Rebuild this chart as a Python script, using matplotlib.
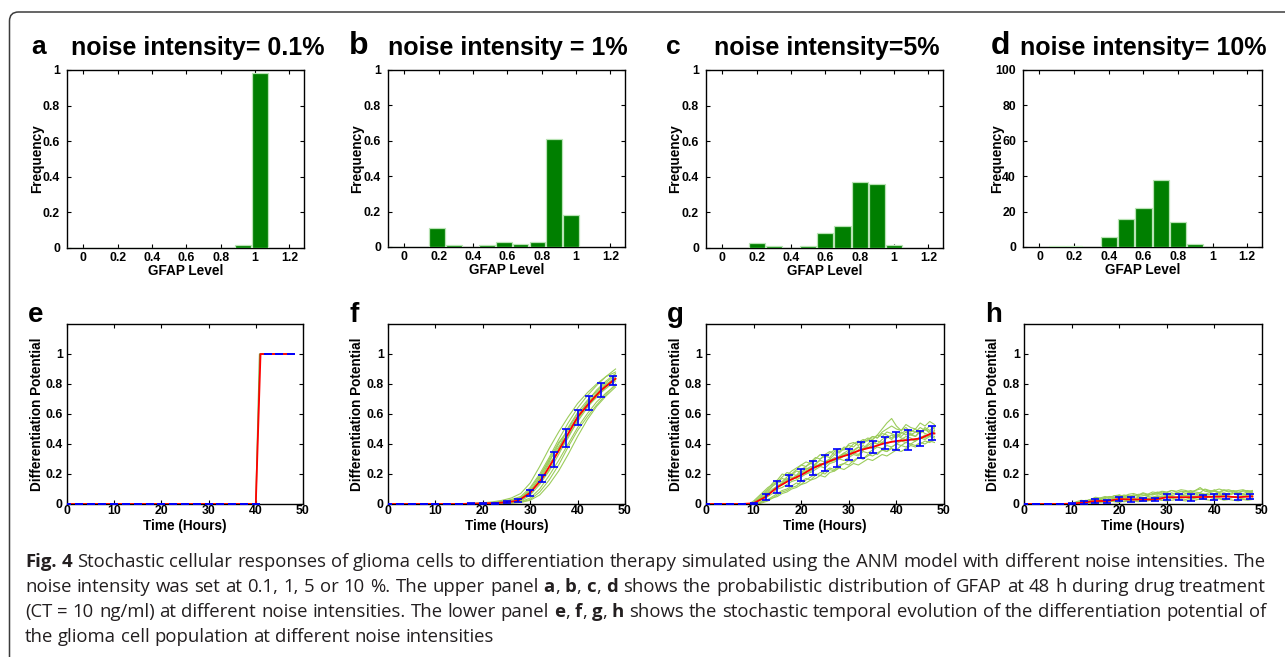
import numpy as np
import matplotlib
matplotlib.use("Agg")
import matplotlib.pyplot as plt
from matplotlib.patches import FancyBboxPatch
from matplotlib.transforms import IdentityTransform

W, H = 1285, 657
plt.rcParams['font.family'] = ['Liberation Sans', 'DejaVu Sans']
plt.rcParams['font.weight'] = 'bold'

# ---------------- data ----------------
titles = ["noise intensity= 0.1%", "noise intensity = 1%", "noise intensity=5%", "noise intensity= 10%"]
top_letters = ["a", "b", "c", "d"]
bottom_letters = ["e", "f", "g", "h"]

hist_a_centers = [-0.07, 0.03, 0.13, 0.23, 0.33, 0.43, 0.53, 0.63, 0.73, 0.83, 0.93, 1.03]
hist_a_freq = [0, 0, 0, 0, 0, 0, 0, 0, 0, 0, 0.019, 0.983]
hist_b_centers = [-0.1025, -0.005, 0.0925, 0.19, 0.2875, 0.385, 0.4825, 0.58, 0.6775, 0.775, 0.8725, 0.97]
hist_b_freq = [0, 0, 0, 0.109, 0.009, 0.002, 0.009, 0.028, 0.019, 0.028, 0.611, 0.179]
hist_c_centers = [0.0, 0.1, 0.2, 0.3, 0.4, 0.5, 0.6, 0.7, 0.8, 0.9, 1.0]
hist_c_freq = [0, 0, 0.03, 0.013, 0, 0.013, 0.082, 0.121, 0.372, 0.36, 0.019]
hist_d_centers = [0.0, 0.1, 0.2, 0.3, 0.4, 0.5, 0.6, 0.7, 0.8, 0.9, 1.0]
hist_d_freq = [0, 0.8, 0.8, 0, 5.8, 15.8, 22, 38, 13.9, 1.9, 0]

gfap_ticks = [0, 0.2, 0.4, 0.6, 0.8, 1.0, 1.2]
gfap_ticklabels = ["0", "0.2", "0.4", "0.6", "0.8", "1", "1.2"]
freq_ticks = [0, 0.2, 0.4, 0.6, 0.8, 1.0]
freq_ticklabels = ["0", "0.2", "0.4", "0.6", "0.8", "1"]
count_ticks = [0, 20, 40, 60, 80, 100]
count_ticklabels = ["0", "20", "40", "60", "80", "100"]
time_ticks = [0, 10, 20, 30, 40, 50]
time_ticklabels = ["0", "10", "20", "30", "40", "50"]

# error-bar summaries (every 2.5 h from 0 to 47.5)
t_err = np.arange(0, 50, 2.5)
mean_e = [0, 0, 0, 0, 0, 0, 0, 0, 0, 0, 0, 0, 0, 0, 0, 0, 0, 1, 1, 1]
std_e = [0] * 20
mean_f = [0, 0, 0, 0, 0, 0, 0, 0.002, 0.004, 0.006, 0.012, 0.022, 0.075, 0.17, 0.30, 0.44, 0.58, 0.675, 0.76, 0.823]
std_f = [0, 0, 0, 0, 0, 0, 0, 0.002, 0.003, 0.004, 0.008, 0.01, 0.02, 0.026, 0.05, 0.06, 0.05, 0.047, 0.047, 0.028]
mean_g = [0, 0, 0, 0, 0.005, 0.047, 0.112, 0.157, 0.193, 0.24, 0.273, 0.305, 0.33, 0.36, 0.38, 0.405, 0.42, 0.427, 0.437, 0.473]
std_g = [0, 0, 0, 0, 0.005, 0.022, 0.039, 0.039, 0.042, 0.044, 0.055, 0.06, 0.038, 0.055, 0.04, 0.04, 0.06, 0.065, 0.053, 0.045]
mean_h = [0, 0, 0, 0, 0.002, 0.01, 0.02, 0.02, 0.033, 0.03, 0.03, 0.03, 0.045, 0.045, 0.045, 0.047, 0.048, 0.05, 0.045, 0.05]
std_h = [0, 0, 0, 0, 0.002, 0.01, 0.015, 0.01, 0.015, 0.015, 0.013, 0.013, 0.02, 0.02, 0.022, 0.015, 0.018, 0.015, 0.02, 0.018]
end_f, end_g, end_h = 0.835, 0.47, 0.05

# panel e: all trajectories switch at 40 h
t_e = [0, 40, 41, 48]
traj_e = [0, 0, 1, 1]
t_e_green = [0, 40, 40.8, 48]

# panel f trajectories
t_f = [0, 16, 18, 20, 22, 24, 26, 28, 30, 32, 34, 36, 38, 40, 42, 44, 46, 48]
traj_f = [
    [0, 0, 0.003, 0.006, 0.01, 0.018, 0.03, 0.05, 0.11, 0.20, 0.31, 0.43, 0.54, 0.64, 0.72, 0.79, 0.85, 0.90],
    [0, 0, 0.001, 0.002, 0.004, 0.006, 0.01, 0.015, 0.04, 0.10, 0.19, 0.29, 0.40, 0.51, 0.60, 0.68, 0.74, 0.79],
    [0, 0, 0.002, 0.004, 0.007, 0.012, 0.02, 0.035, 0.09, 0.17, 0.28, 0.40, 0.50, 0.60, 0.67, 0.74, 0.80, 0.84],
    [0, 0, 0.001, 0.003, 0.005, 0.008, 0.012, 0.02, 0.06, 0.13, 0.22, 0.33, 0.45, 0.55, 0.64, 0.72, 0.77, 0.82],
    [0, 0, 0.002, 0.005, 0.008, 0.014, 0.022, 0.04, 0.10, 0.19, 0.29, 0.38, 0.47, 0.57, 0.65, 0.71, 0.78, 0.83],
    [0, 0, 0.001, 0.002, 0.003, 0.005, 0.008, 0.012, 0.03, 0.08, 0.16, 0.26, 0.38, 0.49, 0.58, 0.66, 0.73, 0.80],
    [0, 0, 0.003, 0.005, 0.009, 0.015, 0.025, 0.045, 0.085, 0.14, 0.23, 0.37, 0.51, 0.61, 0.69, 0.75, 0.81, 0.86],
    [0, 0, 0.002, 0.003, 0.006, 0.01, 0.016, 0.028, 0.07, 0.16, 0.27, 0.35, 0.44, 0.56, 0.66, 0.73, 0.79, 0.85],
    [0, 0, 0.004, 0.008, 0.014, 0.024, 0.04, 0.07, 0.14, 0.25, 0.37, 0.48, 0.58, 0.67, 0.74, 0.80, 0.85, 0.88],
    [0, 0, 0.001, 0.001, 0.002, 0.004, 0.006, 0.01, 0.025, 0.06, 0.13, 0.22, 0.33, 0.45, 0.56, 0.65, 0.72, 0.78],
    [0, 0, 0.002, 0.004, 0.006, 0.01, 0.018, 0.03, 0.08, 0.18, 0.30, 0.41, 0.49, 0.58, 0.68, 0.76, 0.82, 0.87],
]

# panels g, h trajectories (t = 0, then hourly 9..48)
t_gh = [0] + list(range(9, 49))
traj_g = [
    [0, 0, 0.01, 0.03, 0.06, 0.08, 0.12, 0.14, 0.15, 0.18, 0.20, 0.19, 0.23, 0.25, 0.27, 0.26, 0.30, 0.32, 0.31, 0.35, 0.34, 0.37, 0.39, 0.38, 0.41, 0.43, 0.42, 0.45, 0.44, 0.48, 0.50, 0.52, 0.50, 0.49, 0.53, 0.51, 0.50, 0.54, 0.52, 0.55, 0.53],
    [0, 0, 0, 0.01, 0.02, 0.03, 0.05, 0.07, 0.09, 0.10, 0.12, 0.14, 0.13, 0.16, 0.18, 0.20, 0.19, 0.22, 0.24, 0.23, 0.26, 0.27, 0.29, 0.28, 0.31, 0.30, 0.32, 0.34, 0.33, 0.36, 0.35, 0.37, 0.36, 0.39, 0.38, 0.40, 0.39, 0.41, 0.40, 0.42, 0.41],
    [0, 0, 0.02, 0.05, 0.08, 0.11, 0.13, 0.15, 0.17, 0.16, 0.19, 0.22, 0.21, 0.24, 0.23, 0.27, 0.29, 0.28, 0.30, 0.33, 0.31, 0.34, 0.33, 0.36, 0.38, 0.36, 0.39, 0.41, 0.40, 0.43, 0.45, 0.43, 0.46, 0.44, 0.43, 0.47, 0.45, 0.48, 0.50, 0.47, 0.49],
    [0, 0, 0.005, 0.02, 0.03, 0.05, 0.07, 0.10, 0.11, 0.13, 0.15, 0.16, 0.18, 0.20, 0.21, 0.23, 0.25, 0.24, 0.27, 0.28, 0.30, 0.29, 0.31, 0.33, 0.32, 0.35, 0.34, 0.36, 0.38, 0.37, 0.39, 0.38, 0.40, 0.42, 0.41, 0.43, 0.42, 0.44, 0.46, 0.45, 0.47],
    [0, 0, 0.01, 0.04, 0.07, 0.10, 0.14, 0.16, 0.20, 0.19, 0.22, 0.24, 0.26, 0.25, 0.28, 0.31, 0.30, 0.33, 0.35, 0.33, 0.37, 0.36, 0.40, 0.41, 0.39, 0.42, 0.44, 0.43, 0.46, 0.45, 0.48, 0.47, 0.45, 0.48, 0.46, 0.49, 0.48, 0.51, 0.49, 0.52, 0.50],
    [0, 0, 0, 0.005, 0.015, 0.03, 0.04, 0.06, 0.08, 0.09, 0.11, 0.12, 0.15, 0.17, 0.16, 0.19, 0.21, 0.20, 0.23, 0.22, 0.25, 0.27, 0.26, 0.29, 0.31, 0.30, 0.33, 0.32, 0.34, 0.36, 0.35, 0.38, 0.40, 0.39, 0.41, 0.40, 0.42, 0.44, 0.43, 0.45, 0.44],
    [0, 0, 0.01, 0.03, 0.05, 0.07, 0.10, 0.12, 0.14, 0.17, 0.16, 0.18, 0.21, 0.23, 0.25, 0.24, 0.27, 0.26, 0.29, 0.31, 0.30, 0.32, 0.35, 0.34, 0.36, 0.39, 0.37, 0.40, 0.42, 0.41, 0.44, 0.46, 0.44, 0.47, 0.49, 0.46, 0.48, 0.47, 0.50, 0.48, 0.51],
    [0, 0, 0.01, 0.03, 0.06, 0.09, 0.12, 0.15, 0.18, 0.21, 0.20, 0.23, 0.26, 0.28, 0.27, 0.30, 0.33, 0.31, 0.34, 0.36, 0.35, 0.38, 0.37, 0.40, 0.42, 0.40, 0.43, 0.45, 0.44, 0.47, 0.46, 0.44, 0.47, 0.45, 0.48, 0.46, 0.45, 0.49, 0.47, 0.46, 0.48],
    [0, 0, 0, 0, 0.01, 0.02, 0.04, 0.05, 0.07, 0.08, 0.10, 0.11, 0.13, 0.14, 0.16, 0.17, 0.19, 0.18, 0.21, 0.22, 0.24, 0.23, 0.25, 0.27, 0.26, 0.28, 0.30, 0.29, 0.31, 0.33, 0.32, 0.34, 0.36, 0.35, 0.37, 0.39, 0.38, 0.40, 0.42, 0.41, 0.43],
    [0, 0, 0.005, 0.02, 0.04, 0.07, 0.09, 0.11, 0.13, 0.16, 0.18, 0.17, 0.20, 0.22, 0.24, 0.26, 0.25, 0.28, 0.30, 0.29, 0.32, 0.34, 0.36, 0.35, 0.38, 0.37, 0.40, 0.43, 0.46, 0.50, 0.54, 0.57, 0.52, 0.49, 0.51, 0.48, 0.50, 0.47, 0.51, 0.49, 0.52],
    [0, 0, 0.01, 0.025, 0.045, 0.065, 0.09, 0.12, 0.14, 0.15, 0.17, 0.19, 0.21, 0.20, 0.22, 0.25, 0.27, 0.26, 0.28, 0.29, 0.31, 0.33, 0.32, 0.34, 0.33, 0.36, 0.38, 0.37, 0.39, 0.41, 0.40, 0.42, 0.41, 0.43, 0.45, 0.44, 0.42, 0.45, 0.44, 0.46, 0.45],
]
traj_h = [
    [0, 0, 0, 0.005, 0.01, 0.02, 0.03, 0.025, 0.04, 0.035, 0.05, 0.04, 0.06, 0.05, 0.045, 0.06, 0.055, 0.07, 0.06, 0.065, 0.08, 0.07, 0.075, 0.09, 0.08, 0.07, 0.085, 0.075, 0.09, 0.11, 0.085, 0.08, 0.095, 0.075, 0.09, 0.08, 0.085, 0.07, 0.09, 0.08, 0.085],
    [0, 0, 0, 0, 0.005, 0.01, 0.005, 0.015, 0.01, 0.02, 0.015, 0.02, 0.025, 0.015, 0.02, 0.03, 0.02, 0.025, 0.02, 0.03, 0.035, 0.025, 0.03, 0.04, 0.03, 0.035, 0.03, 0.04, 0.035, 0.03, 0.04, 0.045, 0.035, 0.04, 0.03, 0.035, 0.045, 0.04, 0.035, 0.03, 0.04],
    [0, 0, 0, 0.01, 0.015, 0.025, 0.02, 0.035, 0.03, 0.025, 0.04, 0.035, 0.03, 0.045, 0.04, 0.035, 0.03, 0.04, 0.05, 0.045, 0.055, 0.05, 0.06, 0.055, 0.065, 0.06, 0.05, 0.065, 0.06, 0.07, 0.065, 0.06, 0.07, 0.065, 0.055, 0.06, 0.07, 0.065, 0.06, 0.07, 0.065],
    [0, 0, 0, 0.005, 0.005, 0.01, 0.015, 0.01, 0.02, 0.03, 0.025, 0.03, 0.04, 0.035, 0.03, 0.025, 0.035, 0.03, 0.04, 0.035, 0.045, 0.04, 0.05, 0.045, 0.04, 0.05, 0.055, 0.045, 0.05, 0.055, 0.05, 0.045, 0.055, 0.05, 0.06, 0.05, 0.045, 0.055, 0.05, 0.06, 0.055],
    [0, 0, 0.005, 0.015, 0.025, 0.02, 0.03, 0.045, 0.04, 0.05, 0.045, 0.055, 0.05, 0.06, 0.055, 0.05, 0.065, 0.06, 0.055, 0.07, 0.065, 0.08, 0.07, 0.065, 0.075, 0.085, 0.08, 0.09, 0.08, 0.075, 0.10, 0.09, 0.085, 0.08, 0.095, 0.085, 0.09, 0.08, 0.085, 0.09, 0.08],
    [0, 0, 0, 0, 0.01, 0.005, 0.01, 0.005, 0.015, 0.01, 0.02, 0.015, 0.01, 0.02, 0.025, 0.02, 0.015, 0.02, 0.025, 0.02, 0.03, 0.025, 0.02, 0.025, 0.03, 0.025, 0.02, 0.03, 0.025, 0.035, 0.03, 0.025, 0.03, 0.035, 0.025, 0.03, 0.025, 0.02, 0.03, 0.025, 0.03],
    [0, 0, 0, 0.01, 0.02, 0.015, 0.025, 0.035, 0.03, 0.04, 0.05, 0.045, 0.04, 0.055, 0.05, 0.06, 0.05, 0.055, 0.065, 0.06, 0.07, 0.06, 0.065, 0.075, 0.065, 0.06, 0.07, 0.08, 0.07, 0.075, 0.065, 0.075, 0.085, 0.07, 0.075, 0.065, 0.08, 0.075, 0.07, 0.08, 0.075],
    [0, 0, 0, 0, 0.005, 0.01, 0.02, 0.015, 0.025, 0.02, 0.03, 0.025, 0.035, 0.03, 0.04, 0.035, 0.045, 0.04, 0.035, 0.045, 0.05, 0.045, 0.055, 0.05, 0.045, 0.055, 0.06, 0.055, 0.05, 0.06, 0.055, 0.065, 0.06, 0.055, 0.065, 0.06, 0.07, 0.065, 0.06, 0.065, 0.06],
    [0, 0, 0, 0.005, 0.01, 0.02, 0.03, 0.04, 0.035, 0.045, 0.04, 0.055, 0.06, 0.05, 0.065, 0.07, 0.06, 0.075, 0.065, 0.08, 0.075, 0.085, 0.08, 0.09, 0.085, 0.095, 0.09, 0.08, 0.09, 0.10, 0.095, 0.085, 0.09, 0.10, 0.09, 0.095, 0.085, 0.09, 0.095, 0.085, 0.09],
]

caption_lines = [
    "**Fig.** **4** Stochastic cellular responses of glioma cells to differentiation therapy simulated using the ANM model with different noise intensities. The",
    "noise intensity was set at 0.1, 1, 5 or 10 %. The upper panel **a**, **b**, **c**, **d** shows the probabilistic distribution of GFAP at 48 h during drug treatment",
    "(CT = 10 ng/ml) at different noise intensities. The lower panel **e**, **f**, **g**, **h** shows the stochastic temporal evolution of the differentiation potential of",
    "the glioma cell population at different noise intensities",
]

# ---------------- figure ----------------
fig = plt.figure(figsize=(W / 100, H / 100), dpi=100)

frame = FancyBboxPatch((9.5, -60), 1400, (H - 12) + 60, boxstyle="round,pad=0,rounding_size=9",
                       transform=IdentityTransform(), fill=False, ec="#3c3c3c", lw=1.1)
fig.add_artist(frame)


def rect(x0, y0, x1, y1):
    return [x0 / W, 1 - y1 / H, (x1 - x0) / W, (y1 - y0) / H]


TICK_FS = 8.8
LAB_FS = 9.8


def style(ax, xpad, ypad):
    ax.tick_params(direction='in', top=True, right=True, length=3, width=0.8,
                   labelsize=TICK_FS, colors='black')
    ax.tick_params(axis='x', pad=xpad)
    ax.tick_params(axis='y', pad=ypad)
    for s in ax.spines.values():
        s.set_linewidth(1.0)
        s.set_color('black')
        s.set_zorder(2.5)


top_rects = [(67, 70, 304, 248), (388, 70, 625, 247), (706, 70, 943, 248), (1023, 70, 1262, 247)]
bot_rects = [(67, 324, 303, 504), (388, 324, 625, 504), (706, 324, 944, 504), (1024, 324, 1262, 504)]
top_ylabx = [-0.125, -0.131, -0.129, -0.108]
bot_ylabx = [-0.125, -0.131, -0.128, -0.129]

hists = [(hist_a_centers, hist_a_freq, 0.092), (hist_b_centers, hist_b_freq, 0.091),
         (hist_c_centers, hist_c_freq, 0.094), (hist_d_centers, hist_d_freq, 0.094)]

BAR_GREEN = "#007f00"
BAR_EDGE = "#b9e3b5"
for i, (r, (cen, fr, wd)) in enumerate(zip(top_rects, hists)):
    ax = fig.add_axes(rect(*r))
    ax.bar(cen, fr, width=wd, color=BAR_GREEN, edgecolor=BAR_EDGE, linewidth=0.9, zorder=3)
    ax.set_xlim(-0.095, 1.285)
    ax.set_xticks(gfap_ticks)
    ax.set_xticklabels(gfap_ticklabels, fontweight='bold')
    if i == 3:
        ax.set_ylim(0, 100)
        ax.set_yticks(count_ticks)
        ax.set_yticklabels(count_ticklabels, fontweight='bold')
    else:
        ax.set_ylim(0, 1)
        ax.set_yticks(freq_ticks)
        ax.set_yticklabels(freq_ticklabels, fontweight='bold')
    style(ax, 3.0, 5.0)
    ax.set_xlabel("GFAP Level", fontsize=LAB_FS, fontweight='bold', va='center')
    ax.xaxis.set_label_coords(0.5, -0.131)
    ax.set_ylabel("Frequency", fontsize=LAB_FS, fontweight='bold', va='center')
    ax.yaxis.set_label_coords(top_ylabx[i], 0.5)

# titles and letters
title_cx = [197.5, 508, 826.5, 1143]
letter_x = [31, 349, 666, 991]
letter_fs = [19, 23, 19, 23]
for i in range(4):
    fig.text(title_cx[i] / W, 1 - 55 / H, titles[i], ha='center', va='baseline',
             fontsize=18, fontweight='bold')
    fig.text(letter_x[i] / W, 1 - 54 / H, top_letters[i], ha='left', va='baseline',
             fontsize=letter_fs[i], fontweight='bold')

GREEN_LINE = "#9ccc5c"
lower = [
    (None, mean_e, std_e, None),
    (traj_f, mean_f, std_f, end_f),
    (traj_g, mean_g, std_g, end_g),
    (traj_h, mean_h, std_h, end_h),
]
for i, (r, (trajs, mu, sd, endv)) in enumerate(zip(bot_rects, lower)):
    ax = fig.add_axes(rect(*r))
    if i == 0:
        ax.plot(t_e_green, traj_e, color="#7aa83a", lw=1.0, zorder=2)
        ax.plot(t_e, traj_e, color="red", lw=1.3, zorder=3)
    else:
        tt = t_f if i == 1 else t_gh
        for tr in trajs:
            ax.plot(tt, tr, color=GREEN_LINE, lw=0.8, zorder=2)
        ax.plot(np.r_[t_err, 48], np.r_[mu, endv], color="red", lw=1.3, zorder=3)
    ax.errorbar(t_err, mu, yerr=sd, fmt='none', ecolor='blue', elinewidth=1.2,
                capsize=2.6, capthick=1.2, zorder=4)
    ax.set_xlim(0, 50)
    ax.set_ylim(0, 1.2)
    ax.set_xticks(time_ticks)
    ax.set_xticklabels(time_ticklabels, fontweight='bold')
    ax.set_yticks(freq_ticks)
    ax.set_yticklabels(freq_ticklabels, fontweight='bold')
    style(ax, 0.8, 3.0)
    ax.set_xlabel("Time (Hours)", fontsize=LAB_FS, fontweight='bold', va='center')
    ax.xaxis.set_label_coords(0.5, -0.12)
    ax.set_ylabel("Differentiation Potential", fontsize=LAB_FS, fontweight='bold', va='center')
    ax.yaxis.set_label_coords(bot_ylabx[i], 0.5)
    fig.text((r[0] - 39) / W, 1 - 322 / H, bottom_letters[i], ha='left', va='baseline',
             fontsize=20, fontweight='bold')

# ---------------- caption (justified) ----------------
CAP_FONT = ['Open Sans', 'DejaVu Sans']
CAP_COLOR = "#231f20"
renderer = fig.canvas.get_renderer()
x_left, x_right = 25, 1266
baselines = [567, 592, 617, 642]


def parse(line):
    words = []
    for w in line.split(' '):
        parts = w.split('**')
        segs = [(p, k % 2 == 1) for k, p in enumerate(parts) if p]
        words.append(segs)
    return words


line_objs = []
for line in caption_lines:
    wl = []
    for segs in parse(line):
        tl = []
        for s, b in segs:
            t = fig.text(0, 0, s, fontsize=10, family=CAP_FONT, color=CAP_COLOR,
                         fontweight='bold' if b else 'normal', ha='left', va='baseline')
            tl.append(t)
        wl.append(tl)
    line_objs.append(wl)


def measure(fs):
    res = []
    for wl in line_objs:
        widths = []
        for tl in wl:
            wsum = 0
            for t in tl:
                t.set_fontsize(fs)
                wsum += t.get_window_extent(renderer).width
            widths.append(wsum)
        res.append(widths)
    return res


space_em = 0.26
m10 = measure(10)
nat = [sum(w) + (len(w) - 1) * space_em * 10 * 100 / 72 for w in m10[:3]]
fs = 10 * (x_right - x_left) / max(nat) * 0.995
widths_all = measure(fs)
space_px = space_em * fs * 100 / 72
for li, (wl, widths) in enumerate(zip(line_objs, widths_all)):
    if li < 3:
        gap = (x_right - x_left - sum(widths)) / (len(widths) - 1)
    else:
        gap = space_px
    x = x_left
    for tl, wd in zip(wl, widths):
        xx = x
        for t in tl:
            t.set_position((xx / W, 1 - baselines[li] / H))
            xx += t.get_window_extent(renderer).width
        x += wd + gap

fig.savefig("out.png", dpi=100)
